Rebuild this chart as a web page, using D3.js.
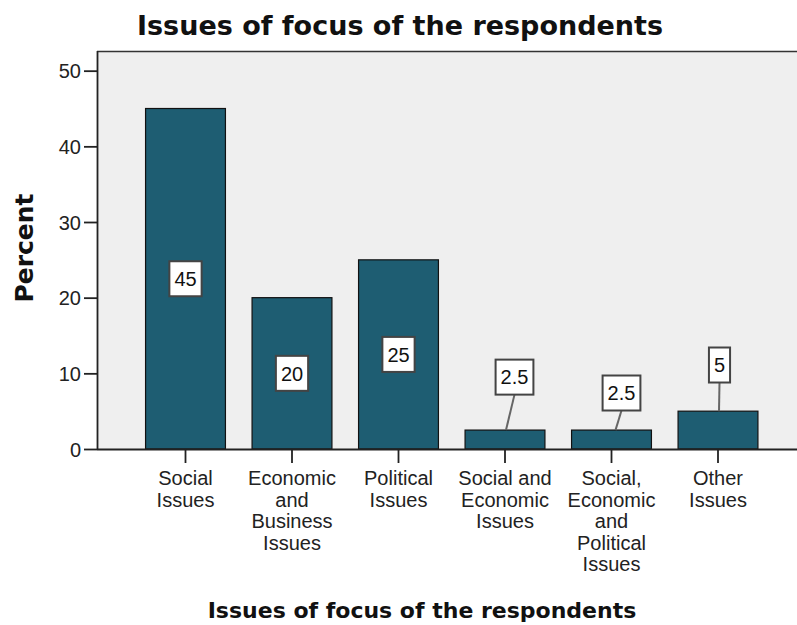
<!DOCTYPE html>
<html>
<head>
<meta charset="utf-8">
<script src="https://cdn.jsdelivr.net/npm/d3@7"></script>
<style>
  html, body { margin: 0; padding: 0; background: #ffffff; }
  svg { display: block; }
</style>
</head>
<body>
<svg id="chart" width="797" height="625"></svg>
<script>
// ---- data ----
const categories = [
  ["Social", "Issues"],
  ["Economic", "and", "Business", "Issues"],
  ["Political", "Issues"],
  ["Social and", "Economic", "Issues"],
  ["Social,", "Economic", "and", "Political", "Issues"],
  ["Other", "Issues"]
];
const percents = [45, 20, 25, 2.5, 2.5, 5];
const valueLabels = ["45", "20", "25", "2.5", "2.5", "5"];
const yTicks = [0, 10, 20, 30, 40, 50];
const chartTitle = "Issues of focus of the respondents";
const xTitle = "Issues of focus of the respondents";
const yTitle = "Percent";

// label placement for small bars (callouts): label centre in data units, x offsets px
const callouts = [null, null, null,
  {y: 9.5, dx: 9.5, sx: 1},
  {y: 7.4, dx: 10, sx: 4},
  {y: 11.1, dx: 1.5, sx: 1}];

// ---- layout ----
const svg = d3.select("#chart");
const plot = {left: 97, right: 797, top: 51, bottom: 449};

const x = d3.scaleBand()
  .domain(d3.range(categories.length))
  .range([132.25, 771.25])
  .paddingInner(0.25)
  .paddingOuter(0.125);

const y = d3.scaleLinear().domain([0, 52.6]).range([plot.bottom, plot.top]);

// plot background
svg.append("rect")
  .attr("x", plot.left).attr("y", plot.top)
  .attr("width", plot.right - plot.left).attr("height", plot.bottom - plot.top)
  .attr("fill", "#efefef");

// top frame line
svg.append("line")
  .attr("x1", plot.left).attr("x2", plot.right)
  .attr("y1", plot.top + 0.5).attr("y2", plot.top + 0.5)
  .attr("stroke", "#333").attr("stroke-width", 1.5);

// bars
svg.append("g").selectAll("rect")
  .data(percents)
  .join("rect")
  .attr("x", (d, i) => x(i))
  .attr("y", d => y(d))
  .attr("width", x.bandwidth())
  .attr("height", d => y(0) - y(d))
  .attr("fill", "#1e5d72")
  .attr("stroke", "#111")
  .attr("stroke-width", 1.2);

// y axis
const yAxis = d3.axisLeft(y).tickValues(yTicks).tickSize(13).tickPadding(3).tickFormat(d3.format("d"));
const gy = svg.append("g").attr("transform", `translate(${plot.left},0)`).call(yAxis);
gy.select(".domain").attr("stroke", "#222").attr("stroke-width", 1.8)
  .attr("d", `M0.5,${plot.top}V${plot.bottom}`);
gy.selectAll(".tick line").attr("stroke", "#222").attr("stroke-width", 1.8);
gy.selectAll(".tick text")
  .attr("font-family", "Liberation Sans, Arial, sans-serif")
  .attr("font-size", 20).attr("fill", "#222").attr("dy", "0.36em");

// x axis
const xAxis = d3.axisBottom(x).tickSize(14).tickFormat("");
const gx = svg.append("g").attr("transform", `translate(0,${plot.bottom})`).call(xAxis);
gx.select(".domain").attr("stroke", "#222").attr("stroke-width", 1.8)
  .attr("d", `M${plot.left},0.5H${plot.right}`);
gx.selectAll(".tick line").attr("stroke", "#222").attr("stroke-width", 1.8);

// x category labels (multi-line)
const lbl = svg.append("g")
  .attr("font-family", "Liberation Sans, Arial, sans-serif")
  .attr("font-size", 20).attr("fill", "#222").attr("text-anchor", "middle");
categories.forEach((lines, i) => {
  const t = lbl.append("text").attr("x", x(i) + x.bandwidth() / 2).attr("y", 485);
  lines.forEach((ln, k) => {
    t.append("tspan").attr("x", x(i) + x.bandwidth() / 2).attr("dy", k === 0 ? 0 : 21.6).text(ln);
  });
});

// value labels
const vl = svg.append("g")
  .attr("font-family", "Liberation Sans, Arial, sans-serif")
  .attr("font-size", 20).attr("fill", "#111");
percents.forEach((v, i) => {
  const cx0 = x(i) + x.bandwidth() / 2;
  const c = callouts[i];
  const cy = c ? y(c.y) : y(v / 2);
  const cx = c ? cx0 + c.dx : cx0;
  const txt = vl.append("text").attr("x", cx).attr("y", cy)
    .attr("text-anchor", "middle").attr("dy", "0.36em").text(valueLabels[i]);
  const w = txt.node().getComputedTextLength() + 10;
  const h = 35;
  if (c) {
    vl.insert("line", "text")
      .attr("x1", cx0 + c.sx).attr("y1", y(v))
      .attr("x2", cx).attr("y2", cy + h / 2)
      .attr("stroke", "#666").attr("stroke-width", 2);
  }
  vl.insert("rect", "text")
    .attr("x", cx - w / 2).attr("y", cy - h / 2)
    .attr("width", w).attr("height", h)
    .attr("fill", "#fff").attr("stroke", "#444").attr("stroke-width", 2);
});

// titles
svg.append("text")
  .attr("x", 400).attr("y", 35)
  .attr("text-anchor", "middle")
  .attr("font-family", "DejaVu Sans, sans-serif").attr("font-weight", "bold")
  .attr("font-size", 27).attr("fill", "#111")
  .text(chartTitle);

svg.append("text")
  .attr("x", 422).attr("y", 618)
  .attr("text-anchor", "middle")
  .attr("font-family", "DejaVu Sans, sans-serif").attr("font-weight", "bold")
  .attr("font-size", 22).attr("fill", "#111")
  .text(xTitle);

svg.append("text")
  .attr("transform", "translate(33,248) rotate(-90)")
  .attr("text-anchor", "middle")
  .attr("font-family", "DejaVu Sans, sans-serif").attr("font-weight", "bold")
  .attr("font-size", 25).attr("fill", "#111")
  .text(yTitle);
</script>
</body>
</html>
